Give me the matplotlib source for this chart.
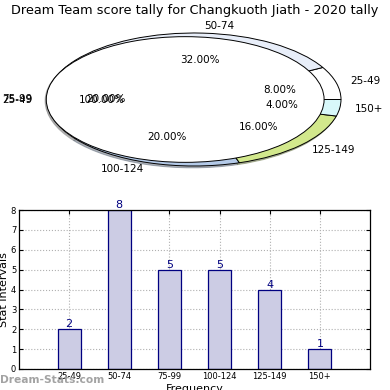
import matplotlib
matplotlib.use("Agg")
import matplotlib.pyplot as plt

categories = ["25-49", "50-74", "75-99", "100-124", "125-149", "150+"]
counts = [2, 8, 5, 5, 4, 1]
pie_colors = ["#ffffff", "#e8eef9", "#ffffff", "#b4cae8", "#d2e88c", "#d8f8fa"]
overlay_label = ["25-49"]
overlay_value = [1]
yticks = [0, 1, 2, 3, 4, 5, 6, 7, 8]

fig = plt.figure(figsize=(3.9, 3.9), dpi=100)
fig.patch.set_facecolor("white")

fig.text(0.5, 0.973, "Dream Team score tally for Changkuoth Jiath - 2020 tally",
         ha="center", va="center", fontsize=9.3)

# Pie (ellipse, non-equal aspect)
ax1 = fig.add_axes([47 / 390, 224 / 390, 294 / 390, 133 / 390])
w, t, at = ax1.pie(counts, labels=categories, colors=pie_colors, startangle=0,
                   autopct="%.2f%%",
                   shadow=dict(ox=-0.008, oy=-0.02, shade=0.5),
                   frame=True,
                   wedgeprops=dict(edgecolor="black", linewidth=0.7),
                   textprops=dict(fontsize=7.5))
w2, t2, at2 = ax1.pie(overlay_value, labels=overlay_label, colors=["white"],
                      startangle=0, autopct="%.2f%%", radius=0.945,
                      center=(-0.06, 0), frame=True,
                      shadow=dict(ox=-0.006, oy=-0.012, shade=0.4),
                      wedgeprops=dict(edgecolor="black", linewidth=0.7),
                      textprops=dict(fontsize=7.5))
ax1.set_xlim(-1, 1)
ax1.set_ylim(-1, 1)
ax1.set_aspect("auto")
ax1.axis("off")

# Bar chart
ax2 = fig.add_axes([19 / 390, 21 / 390, 351 / 390, 159 / 390])
xpos = list(range(1, len(categories) + 1))
bars = ax2.bar(xpos, counts, width=0.46, color="#ccccE4", edgecolor="#000080",
               linewidth=0.9, zorder=2)
for x, v in zip(xpos, counts):
    ax2.text(x, v, str(v), ha="center", va="bottom", color="#000080", fontsize=8)
ax2.set_xlim(0, 7)
ax2.set_ylim(0, 8)
ax2.set_yticks(yticks)
ax2.set_xticks(xpos)
ax2.set_xticklabels(categories)
ax2.tick_params(direction="in", top=True, right=True, labelsize=6, length=3, pad=2)
ax2.grid(True, linestyle=":", color="#b0b0b0", linewidth=0.8, zorder=0)
ax2.set_axisbelow(True)
ax2.set_ylabel("Stat Intervals", fontsize=8, labelpad=1)
ax2.set_xlabel("Frequency", fontsize=8, labelpad=2)
for s in ax2.spines.values():
    s.set_linewidth(0.9)

fig.text(0.0, 10 / 390, "Dream-Stats.com", ha="left", va="center",
         fontsize=7.7, color="#999999", fontweight="bold", alpha=0.9)

fig.savefig("out.png", dpi=100, facecolor="white")
